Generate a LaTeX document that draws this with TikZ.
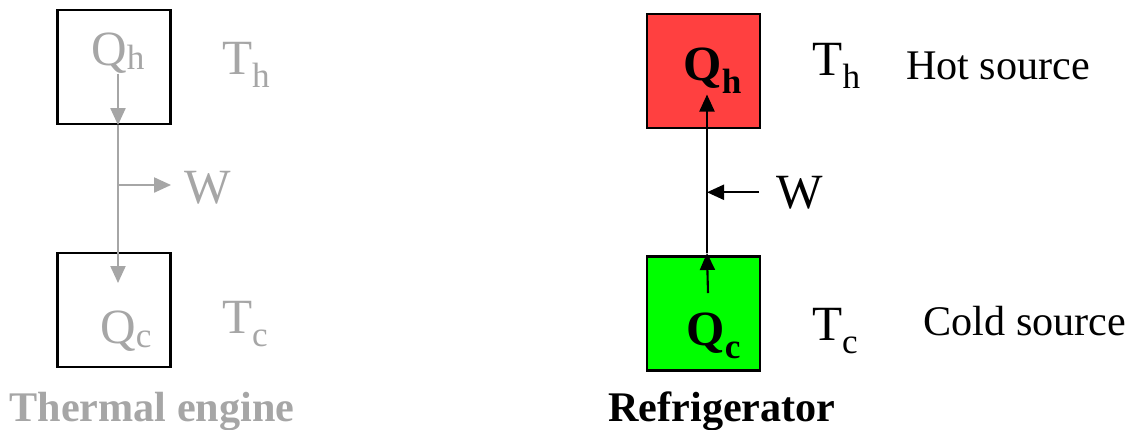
\documentclass[tikz,border=0pt]{standalone}
\usepackage{fontspec}
\setmainfont{Liberation Serif}
\usepackage{tikz}
\usetikzlibrary{arrows.meta,positioning}
\definecolor{enginegray}{HTML}{A6A6A6}
\definecolor{hotred}{HTML}{FF4040}
\definecolor{coldgreen}{HTML}{00FF00}
\newcommand{\lowsub}[2][0.28em]{\raisebox{-#1}{\fontsize{10}{12}\selectfont #2}}

\begin{document}
\begin{tikzpicture}[
  x=0.01cm, y=-0.01cm,
  res/.style={rectangle, draw, line width=0.6pt, minimum width=1.13cm, minimum height=1.14cm},
  sym/.style={anchor=base, inner sep=0pt, font=\fontsize{14}{16}\selectfont},
  symb/.style={anchor=base, inner sep=0pt, font=\fontsize{14}{16}\selectfont\bfseries},
  caption/.style={anchor=base, inner sep=0pt, font=\fontsize{12}{14}\selectfont},
  title/.style={anchor=base, inner sep=0pt, font=\fontsize{12}{14}\selectfont\bfseries},
  arr/.style={-{Triangle[length=0.17cm, width=0.15cm]}, line width=0.6pt}
]
\useasboundingbox (0,0) rectangle (1132,429);
% thermal engine
\node[res] (hotL) at (114,67) {};
\node[res] (coldL) at (114,310) {};
\node[sym, enginegray] (qhL) at (118,65) {Q\lowsub[0.1em]{h}};
\node[sym, enginegray] (thL) at (246,74) {T\lowsub{h}};
\node[sym, enginegray] (wL) at (208,203) {W};
\node[sym, enginegray] (qcL) at (126,343) {Q\lowsub[0.1em]{c}};
\node[sym, enginegray] (tcL) at (245,333) {T\lowsub{c}};
\node[title, enginegray] (engine) at (152,421) {Thermal engine};
\coordinate (flowL) at (118,283);
\coordinate (splitL) at (118,185);
\draw[arr, enginegray] (qhL.south) -- (qhL.south |- hotL.south);
\draw[arr, enginegray] (qhL.south |- hotL.south) -- (flowL);
\draw[arr, enginegray, shorten >=0.13cm] (splitL) -- (splitL -| wL.west);
% refrigerator
\node[res, fill=hotred] (hotR) at (703.5,71) {};
\node[res, fill=coldgreen] (coldR) at (703.5,313.5) {};
\node[symb] (qhR) at (712.5,80) {Q\lowsub{h}};
\node[symb] (qcR) at (713.5,345) {Q\lowsub{c}};
\node[sym] (thR) at (836.5,75) {T\lowsub{h}};
\node[sym] (tcR) at (835,340) {T\lowsub{c}};
\node[sym] (wR) at (800,208) {W};
\node[caption] (hotsrc) at (998,79) {Hot source};
\node[caption] (coldsrc) at (1025,335) {Cold source};
\node[title] (fridge) at (722,421) {Refrigerator};
\coordinate (pumpR) at (707,253);
\coordinate (leakR) at (708,293);
\draw[arr] (leakR) -- (pumpR);
\draw[arr] (pumpR) -- (pumpR |- qhR.south);
\draw[arr, shorten <=0.17cm] (wR.west) -- (wR.west -| pumpR);
\end{tikzpicture}
\end{document}
